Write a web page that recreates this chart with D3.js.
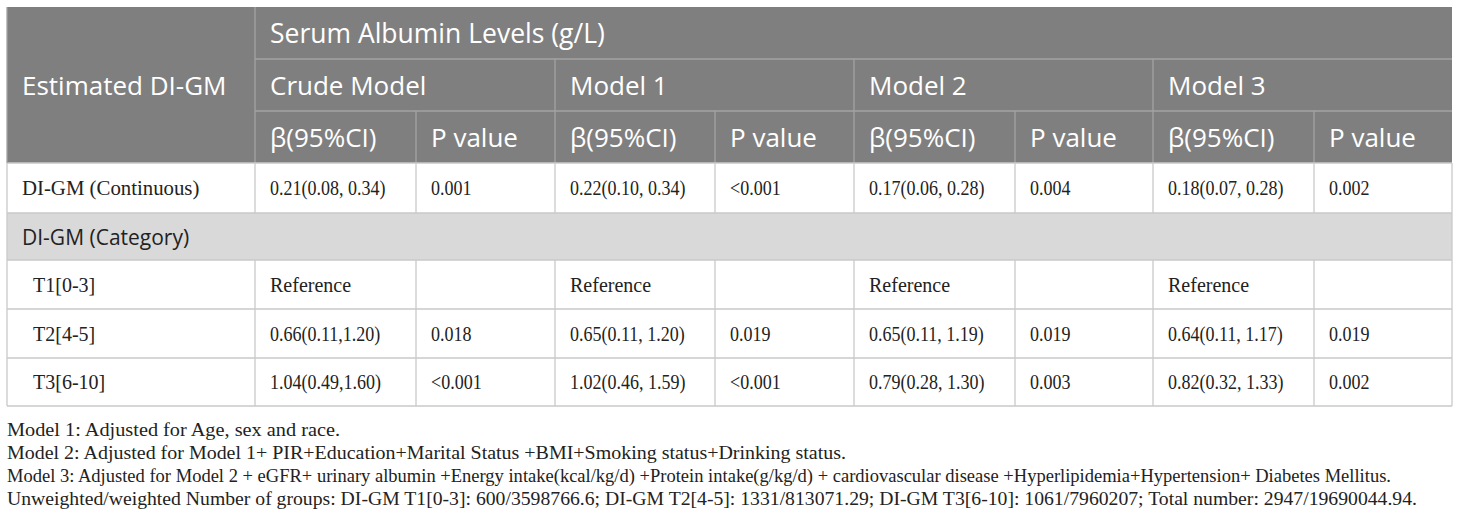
<!DOCTYPE html>
<html><head><meta charset="utf-8">
<script src="https://cdn.jsdelivr.net/npm/d3@7"></script>
<style>body{margin:0;background:#fff}svg{display:block}</style>
</head><body>
<svg id="c" width="1460" height="517"></svg>
<script>
const title = "Serum Albumin Levels (g/L)";
const firstHeader = "Estimated DI-GM";
const models = ["Crude Model", "Model 1", "Model 2", "Model 3"];
const subHeaders = ["β(95%CI)", "P value"];
const rowLabels = ["DI-GM (Continuous)", "T1[0-3]", "T2[4-5]", "T3[6-10]"];
const categoryLabel = "DI-GM (Category)";
const betaValues = [
  ["0.21(0.08, 0.34)", "0.22(0.10, 0.34)", "0.17(0.06, 0.28)", "0.18(0.07, 0.28)"],
  ["Reference", "Reference", "Reference", "Reference"],
  ["0.66(0.11,1.20)", "0.65(0.11, 1.20)", "0.65(0.11, 1.19)", "0.64(0.11, 1.17)"],
  ["1.04(0.49,1.60)", "1.02(0.46, 1.59)", "0.79(0.28, 1.30)", "0.82(0.32, 1.33)"]
];
const pValues = [
  ["0.001", "<0.001", "0.004", "0.002"],
  ["", "", "", ""],
  ["0.018", "0.019", "0.019", "0.019"],
  ["<0.001", "<0.001", "0.003", "0.002"]
];
const footnotes = [
  "Model 1: Adjusted for Age, sex and race.",
  "Model 2: Adjusted for Model 1+ PIR+Education+Marital Status +BMI+Smoking status+Drinking status.",
  "Model 3: Adjusted for Model 2 + eGFR+ urinary albumin +Energy intake(kcal/kg/d) +Protein intake(g/kg/d) + cardiovascular disease +Hyperlipidemia+Hypertension+ Diabetes Mellitus.",
  "Unweighted/weighted Number of groups: DI-GM T1[0-3]: 600/3598766.6; DI-GM T2[4-5]: 1331/813071.29; DI-GM T3[6-10]: 1061/7960207; Total number: 2947/19690044.94."
];

// layout
const colEdges = [7, 255, 416, 555, 715, 854, 1015, 1153, 1314, 1452];
const rowEdges = [7, 59, 111, 163, 213, 260, 309, 358, 406];
const footW = [340, 846, 1391, 1417];

const svg = d3.select("#c");
const HDR = "#7f7f7f", HLINE = "#a3a3a3", BLINE = "#c9c9c9", CAT = "#d9d9d9";
const sans = "'Open Sans', 'Noto Sans', sans-serif";
const serif = "'Liberation Serif', 'Times New Roman', serif";

const colX = d3.scaleOrdinal().domain(d3.range(colEdges.length)).range(colEdges);
const rowY = d3.scaleOrdinal().domain(d3.range(rowEdges.length)).range(rowEdges);

svg.append("rect").attr("x", colX(0)).attr("y", rowY(0)).attr("width", colX(9)-colX(0)).attr("height", rowY(3)-rowY(0)).attr("fill", HDR);
svg.append("rect").attr("x", colX(0)).attr("y", rowY(4)).attr("width", colX(9)-colX(0)).attr("height", rowY(5)-rowY(4)).attr("fill", CAT);

const lines = svg.append("g");
function hl(x1,x2,y,c){lines.append("line").attr("x1",x1).attr("x2",x2).attr("y1",y).attr("y2",y).attr("stroke",c).attr("stroke-width",1.3);}
function vl(x,y1,y2,c){lines.append("line").attr("x1",x).attr("x2",x).attr("y1",y1).attr("y2",y2).attr("stroke",c).attr("stroke-width",1.3);}

hl(colX(1), colX(9), rowY(1), HLINE);
hl(colX(1), colX(9), rowY(2), HLINE);
vl(colX(1), rowY(0), rowY(3), HLINE);
[3,5,7].forEach(c => vl(colX(c), rowY(1), rowY(3), HLINE));
[2,4,6,8].forEach(c => vl(colX(c), rowY(2), rowY(3), HLINE));

[3,4,5,6,7,8].forEach(r => hl(colX(0), colX(9), rowY(r), BLINE));
d3.range(1,9).forEach(c => { vl(colX(c), rowY(3), rowY(4), BLINE); vl(colX(c), rowY(5), rowY(8), BLINE); });
vl(colX(0), rowY(3), rowY(8), BLINE);
vl(colX(9), rowY(3), rowY(8), BLINE);
vl(colX(0), rowY(0), rowY(3), HLINE);

const txt = svg.append("g");
function t(s, x, y, opts){
  const e = txt.append("text").attr("x", x).attr("y", y).attr("dominant-baseline","central").text(s)
    .attr("font-family", opts.ff).attr("font-size", opts.fs).attr("fill", opts.fill);
  if (opts.len) e.attr("textLength", opts.len).attr("lengthAdjust","spacingAndGlyphs");
  if (opts.squeeze) {
    const w = e.node().getComputedTextLength();
    e.attr("textLength", w * opts.squeeze).attr("lengthAdjust","spacingAndGlyphs");
  }
  return e;
}
const hdr = {ff: sans, fs: 26, fill: "#fff"};
t(firstHeader, colX(0)+15, (rowY(0)+rowY(3))/2, hdr);
t(title, colX(1)+15, (rowY(0)+rowY(1))/2, Object.assign({}, hdr, {fs: 26.5}));
models.forEach((m,i) => t(m, colX(1+2*i)+15, (rowY(1)+rowY(2))/2, hdr));
models.forEach((m,i) => subHeaders.forEach((s,j) => t(s, colX(1+2*i+j)+15, (rowY(2)+rowY(3))/2, hdr)));

const num = {ff: serif, fs: 20, fill: "#222", squeeze: 0.9};
const word = {ff: serif, fs: 20, fill: "#222", squeeze: 1.0};
const bodyRows = [3,5,6,7];
rowLabels.forEach((lab, r) => {
  const ry = (rowY(bodyRows[r]) + rowY(bodyRows[r]+1))/2;
  t(lab, colX(0) + (r === 0 ? 15 : 26), ry, Object.assign({}, word, {squeeze: r === 0 ? 1.04 : 1.0}));
  models.forEach((m,i) => {
    const b = betaValues[r][i];
    t(b, colX(1+2*i)+15, ry, /^[0-9<]/.test(b) ? num : word);
    if (pValues[r][i]) t(pValues[r][i], colX(2+2*i)+15, ry, num);
  });
});
t(categoryLabel, colX(0)+15, (rowY(4)+rowY(5))/2, {ff: sans, fs: 21, fill: "#222"});

const foot = {ff: serif, fs: 18, fill: "#222"};
footnotes.forEach((f,i) => t(f, 7, 430 + i*23, Object.assign({}, foot, {len: footW[i] - 7})));
</script>
</body></html>
